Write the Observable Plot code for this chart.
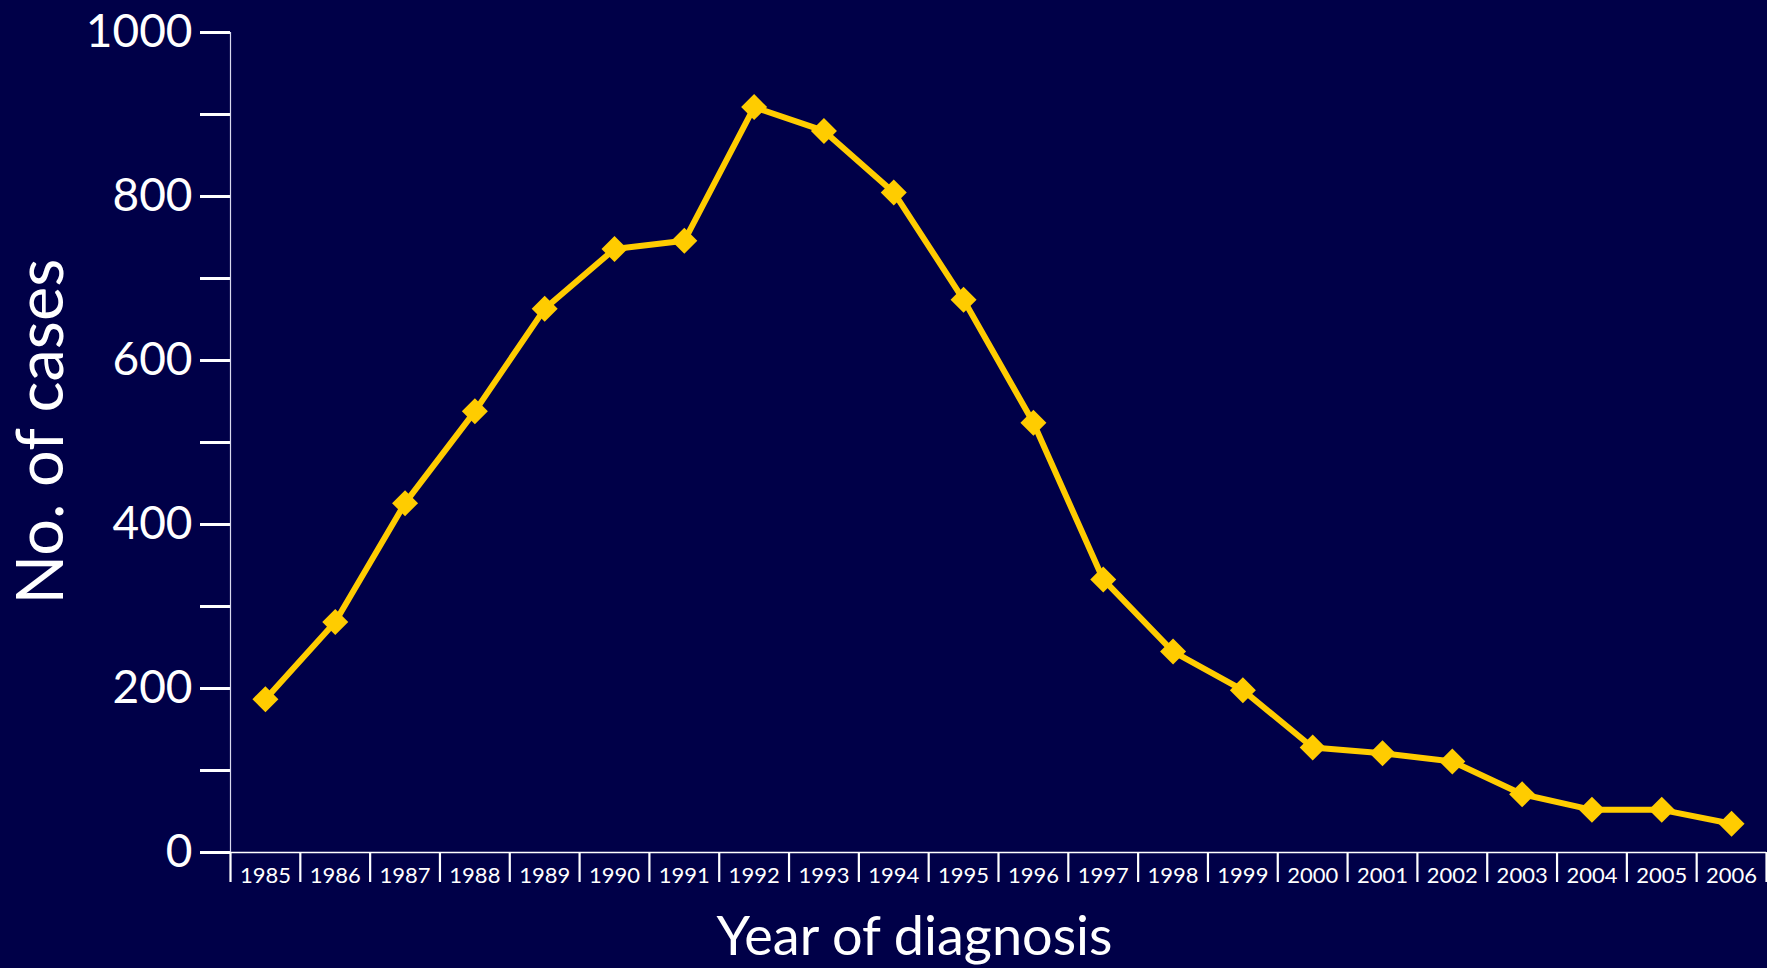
<!DOCTYPE html>
<html>
<head>
<meta charset="utf-8">
<script src="https://cdn.jsdelivr.net/npm/d3@7"></script>
<script src="https://cdn.jsdelivr.net/npm/@observablehq/plot@0.6"></script>
<style>
  html, body { margin: 0; padding: 0; background: #000048; }
  #chart { width: 1767px; height: 968px; overflow: hidden; }
</style>
</head>
<body>
<div id="chart"></div>
<script>
// Data
const years = [1985, 1986, 1987, 1988, 1989, 1990, 1991, 1992, 1993, 1994, 1995,
               1996, 1997, 1998, 1999, 2000, 2001, 2002, 2003, 2004, 2005, 2006];
const cases = [187, 281, 426, 538, 663, 736, 746, 909, 880, 805, 674,
               524, 333, 245, 198, 128, 121, 111, 71, 52, 52, 35];
const yTicks = [0, 100, 200, 300, 400, 500, 600, 700, 800, 900, 1000];
const yTickLabels = [0, 200, 400, 600, 800, 1000];
const xTitle = "Year of diagnosis";
const yTitle = "No. of cases";

const rows = years.map((year, i) => ({year, cases: cases[i]}));
const bounds = [years[0] - 0.5, ...years.map(y => y + 0.5)];

const squareDiamond = {
  draw(ctx, size) {
    const r = Math.sqrt(size / Math.PI);
    ctx.moveTo(0, -r); ctx.lineTo(r, 0); ctx.lineTo(0, r); ctx.lineTo(-r, 0); ctx.closePath();
  }
};

const chart = Plot.plot({
  width: 1767,
  height: 968,
  marginLeft: 230,
  marginRight: 1,
  marginTop: 32,
  marginBottom: 116,
  style: {background: "#000048", color: "white", fontFamily: "Lato, 'Open Sans', sans-serif"},
  x: {type: "linear", domain: [bounds[0], bounds[bounds.length - 1]], axis: null},
  y: {domain: [0, 1000], axis: null},
  marks: [
    Plot.axisY(yTicks, {tickSize: 30, tickPadding: 8, strokeWidth: 3, fontSize: 46,
      tickFormat: d => yTickLabels.includes(d) ? String(d) : "", label: null}),
    Plot.ruleX([bounds[0]], {stroke: "#d8d8ee", strokeWidth: 1.2}),
    Plot.ruleY([0], {stroke: "white", strokeWidth: 1.5}),
    Plot.axisX(bounds, {tickSize: 30, strokeWidth: 2.2, tickFormat: () => "", label: null}),
    Plot.axisX(years, {tickSize: 0, tickPadding: 15, fontSize: 22,
      tickFormat: d => String(d), label: null}),
    Plot.line(rows, {x: "year", y: "cases", stroke: "#FFCC00", strokeWidth: 6}),
    Plot.dot(rows, {x: "year", y: "cases", symbol: squareDiamond, r: 13, fill: "#FFCC00", stroke: null}),
    Plot.text([yTitle], {frameAnchor: "left", rotate: -90, dx: -188, dy: -11, fontSize: 65,
      textAnchor: "middle", lineAnchor: "middle"}),
    Plot.text([xTitle], {frameAnchor: "bottom", dx: -84, dy: 85, fontSize: 54,
      textAnchor: "middle", lineAnchor: "middle"})
  ]
});
document.getElementById("chart").appendChild(chart);
</script>
</body>
</html>
